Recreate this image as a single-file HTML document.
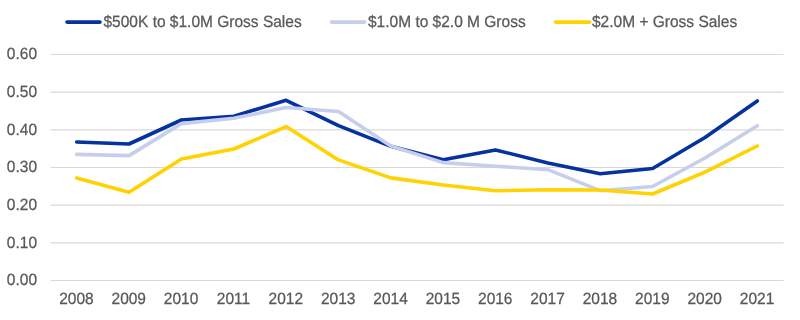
<!DOCTYPE html>
<html><head><meta charset="utf-8"><style>
html,body{margin:0;padding:0;background:#fff;width:800px;height:320px;overflow:hidden}
svg{display:block;will-change:transform}
text{font-family:"Liberation Sans",sans-serif;font-size:15.5px;fill:#595959;stroke:#595959;stroke-width:0.25;text-rendering:geometricPrecision}
</style></head><body>
<svg width="800" height="320" viewBox="0 0 800 320">
<rect width="800" height="320" fill="#fff"/>
<line x1="50.5" x2="783.5" y1="280.50" y2="280.50" stroke="#D9D9D9" stroke-width="1.2"/>
<line x1="50.5" x2="783.5" y1="242.83" y2="242.83" stroke="#D9D9D9" stroke-width="1.2"/>
<line x1="50.5" x2="783.5" y1="205.17" y2="205.17" stroke="#D9D9D9" stroke-width="1.2"/>
<line x1="50.5" x2="783.5" y1="167.50" y2="167.50" stroke="#D9D9D9" stroke-width="1.2"/>
<line x1="50.5" x2="783.5" y1="129.83" y2="129.83" stroke="#D9D9D9" stroke-width="1.2"/>
<line x1="50.5" x2="783.5" y1="92.17" y2="92.17" stroke="#D9D9D9" stroke-width="1.2"/>
<line x1="50.5" x2="783.5" y1="54.50" y2="54.50" stroke="#D9D9D9" stroke-width="1.2"/>
<text transform="translate(37.00,285.30) scale(1,1.05)" text-anchor="end">0.00</text>
<text transform="translate(37.00,247.63) scale(1,1.05)" text-anchor="end">0.10</text>
<text transform="translate(37.00,209.97) scale(1,1.05)" text-anchor="end">0.20</text>
<text transform="translate(37.00,172.30) scale(1,1.05)" text-anchor="end">0.30</text>
<text transform="translate(37.00,134.63) scale(1,1.05)" text-anchor="end">0.40</text>
<text transform="translate(37.00,96.97) scale(1,1.05)" text-anchor="end">0.50</text>
<text transform="translate(37.00,59.30) scale(1,1.05)" text-anchor="end">0.60</text>
<text transform="translate(76.38,303.90) scale(1,1.05)" text-anchor="middle">2008</text>
<text transform="translate(128.74,303.90) scale(1,1.05)" text-anchor="middle">2009</text>
<text transform="translate(181.09,303.90) scale(1,1.05)" text-anchor="middle">2010</text>
<text transform="translate(233.45,303.90) scale(1,1.05)" text-anchor="middle">2011</text>
<text transform="translate(285.81,303.90) scale(1,1.05)" text-anchor="middle">2012</text>
<text transform="translate(338.16,303.90) scale(1,1.05)" text-anchor="middle">2013</text>
<text transform="translate(390.52,303.90) scale(1,1.05)" text-anchor="middle">2014</text>
<text transform="translate(442.88,303.90) scale(1,1.05)" text-anchor="middle">2015</text>
<text transform="translate(495.24,303.90) scale(1,1.05)" text-anchor="middle">2016</text>
<text transform="translate(547.59,303.90) scale(1,1.05)" text-anchor="middle">2017</text>
<text transform="translate(599.95,303.90) scale(1,1.05)" text-anchor="middle">2018</text>
<text transform="translate(652.31,303.90) scale(1,1.05)" text-anchor="middle">2019</text>
<text transform="translate(704.66,303.90) scale(1,1.05)" text-anchor="middle">2020</text>
<text transform="translate(757.02,303.90) scale(1,1.05)" text-anchor="middle">2021</text>

<polyline points="76.7,142.0 129.0,144.0 181.4,120.0 233.8,116.2 286.1,100.3 338.5,125.7 390.8,146.3 443.2,159.8 495.5,149.9 547.9,162.9 600.2,173.8 652.6,168.5 705.0,137.5 757.3,101.0" fill="none" stroke="#0632A0" stroke-width="3.6" stroke-linejoin="round" stroke-linecap="round"/>
<polyline points="76.7,154.4 129.0,155.6 181.4,123.6 233.8,118.3 286.1,107.5 338.5,111.5 390.8,146.0 443.2,162.6 495.5,166.2 547.9,169.7 600.2,190.7 652.6,186.5 705.0,158.0 757.3,125.7" fill="none" stroke="#C6CEEC" stroke-width="3.6" stroke-linejoin="round" stroke-linecap="round"/>
<polyline points="76.7,178.0 129.0,192.2 181.4,158.9 233.8,149.0 286.1,126.6 338.5,159.9 390.8,177.9 443.2,185.0 495.5,190.8 547.9,189.8 600.2,190.0 652.6,194.0 705.0,172.2 757.3,146.0" fill="none" stroke="#FFD200" stroke-width="3.6" stroke-linejoin="round" stroke-linecap="round"/>
<line x1="67" x2="100" y1="22.1" y2="22.1" stroke="#0632A0" stroke-width="3.6" stroke-linecap="round"/>
<text transform="translate(103.50,26.60) scale(1,1.05)">$500K to $1.0M Gross Sales</text>

<line x1="331.5" x2="364.5" y1="22.1" y2="22.1" stroke="#C6CEEC" stroke-width="3.6" stroke-linecap="round"/>
<text transform="translate(368.00,26.60) scale(1,1.05)">$1.0M to $2.0 M Gross</text>

<line x1="555.5" x2="589.5" y1="22.1" y2="22.1" stroke="#FFD200" stroke-width="3.6" stroke-linecap="round"/>
<text transform="translate(592.00,26.60) scale(1,1.05)">$2.0M + Gross Sales</text>

</svg>
</body></html>
